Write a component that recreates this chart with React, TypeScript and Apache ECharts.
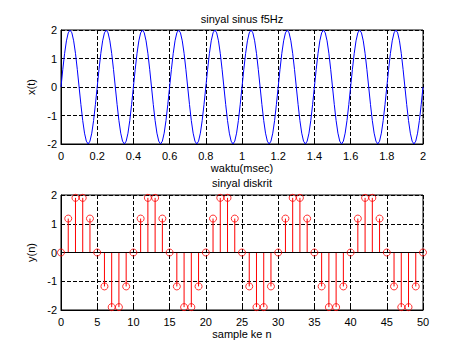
import React, { useEffect, useRef } from "react";
import * as echarts from "echarts";

// continuous signal x(t), sampled every 0.01 s over 0..2
const sineValues: number[] = [
  0, 0.62, 1.18, 1.62, 1.9, 2, 1.9, 1.62, 1.18, 0.62, 0, -0.62, -1.18, -1.62, -1.9, -2, -1.9, -1.62, -1.18, -0.62,
  0, 0.62, 1.18, 1.62, 1.9, 2, 1.9, 1.62, 1.18, 0.62, 0, -0.62, -1.18, -1.62, -1.9, -2, -1.9, -1.62, -1.18, -0.62,
  0, 0.62, 1.18, 1.62, 1.9, 2, 1.9, 1.62, 1.18, 0.62, 0, -0.62, -1.18, -1.62, -1.9, -2, -1.9, -1.62, -1.18, -0.62,
  0, 0.62, 1.18, 1.62, 1.9, 2, 1.9, 1.62, 1.18, 0.62, 0, -0.62, -1.18, -1.62, -1.9, -2, -1.9, -1.62, -1.18, -0.62,
  0, 0.62, 1.18, 1.62, 1.9, 2, 1.9, 1.62, 1.18, 0.62, 0, -0.62, -1.18, -1.62, -1.9, -2, -1.9, -1.62, -1.18, -0.62,
  0, 0.62, 1.18, 1.62, 1.9, 2, 1.9, 1.62, 1.18, 0.62, 0, -0.62, -1.18, -1.62, -1.9, -2, -1.9, -1.62, -1.18, -0.62,
  0, 0.62, 1.18, 1.62, 1.9, 2, 1.9, 1.62, 1.18, 0.62, 0, -0.62, -1.18, -1.62, -1.9, -2, -1.9, -1.62, -1.18, -0.62,
  0, 0.62, 1.18, 1.62, 1.9, 2, 1.9, 1.62, 1.18, 0.62, 0, -0.62, -1.18, -1.62, -1.9, -2, -1.9, -1.62, -1.18, -0.62,
  0, 0.62, 1.18, 1.62, 1.9, 2, 1.9, 1.62, 1.18, 0.62, 0, -0.62, -1.18, -1.62, -1.9, -2, -1.9, -1.62, -1.18, -0.62,
  0, 0.62, 1.18, 1.62, 1.9, 2, 1.9, 1.62, 1.18, 0.62, 0, -0.62, -1.18, -1.62, -1.9, -2, -1.9, -1.62, -1.18, -0.62,
  0,
];
const sineTimeStep = 0.01;

// discrete signal y(n), n = 0..50
const discreteValues: number[] = [
  0, 1.18, 1.9, 1.9, 1.18, 0, -1.18, -1.9, -1.9, -1.18,
  0, 1.18, 1.9, 1.9, 1.18, 0, -1.18, -1.9, -1.9, -1.18,
  0, 1.18, 1.9, 1.9, 1.18, 0, -1.18, -1.9, -1.9, -1.18,
  0, 1.18, 1.9, 1.9, 1.18, 0, -1.18, -1.9, -1.9, -1.18,
  0, 1.18, 1.9, 1.9, 1.18, 0, -1.18, -1.9, -1.9, -1.18,
  0,
];

const titleTop = "sinyal sinus f5Hz";
const titleBottom = "sinyal diskrit";
const xNameTop = "waktu(msec)";
const yNameTop = "x(t)";
const xNameBottom = "sample ke n";
const yNameBottom = "y(n)";

const FONT = "'Liberation Sans', Arial, Helvetica, sans-serif";

export default function App() {
  const ref = useRef<HTMLDivElement>(null);

  useEffect(() => {
    if (!ref.current) return;
    const chart = echarts.init(ref.current, undefined, { renderer: "svg" });

    const sineData = sineValues.map((v, i) => [+(i * sineTimeStep).toFixed(2), v]);
    const discreteData = discreteValues.map((v, i) => [i, v]);

    const axisCommon = {
      axisLine: { show: true, onZero: false, lineStyle: { color: "#000", width: 1 } },
      axisTick: { show: true, inside: true, length: 4, lineStyle: { color: "#000" } },
      axisLabel: { color: "#000", fontSize: 11, fontFamily: FONT },
      splitLine: { show: true, lineStyle: { color: "#000", type: [4, 2], width: 1 } },
      nameTextStyle: { color: "#000", fontSize: 11, fontFamily: FONT },
    };

    const titleStyle = { color: "#000", fontSize: 11, fontWeight: "normal", fontFamily: FONT };

    chart.setOption({
      animation: false,
      backgroundColor: "#fff",
      title: [
        { text: titleTop, left: 242, top: 13, padding: 0, textAlign: "center", textStyle: titleStyle },
        { text: titleBottom, left: 242, top: 177, padding: 0, textAlign: "center", textStyle: titleStyle },
      ],
      grid: [
        { left: 61, top: 30, width: 362, height: 114, show: true, borderColor: "#000", borderWidth: 1, backgroundColor: "transparent" },
        { left: 61, top: 195, width: 362, height: 115, show: true, borderColor: "#000", borderWidth: 1, backgroundColor: "transparent" },
      ],
      xAxis: [
        {
          ...axisCommon,
          type: "value",
          gridIndex: 0,
          min: 0,
          max: 2,
          interval: 0.2,
          name: xNameTop,
          nameLocation: "middle",
          nameGap: 18,
          axisLabel: { ...axisCommon.axisLabel, margin: 6 },
        },
        {
          ...axisCommon,
          type: "value",
          gridIndex: 1,
          min: 0,
          max: 50,
          interval: 5,
          name: xNameBottom,
          nameLocation: "middle",
          nameGap: 18,
          axisLabel: { ...axisCommon.axisLabel, margin: 6 },
        },
      ],
      yAxis: [
        {
          ...axisCommon,
          type: "value",
          gridIndex: 0,
          min: -2,
          max: 2,
          interval: 1,
          name: yNameTop,
          nameLocation: "middle",
          nameGap: 20,
          axisLabel: { ...axisCommon.axisLabel, margin: 4 },
        },
        {
          ...axisCommon,
          type: "value",
          gridIndex: 1,
          min: -2,
          max: 2,
          interval: 1,
          name: yNameBottom,
          nameLocation: "middle",
          nameGap: 20,
          axisLabel: { ...axisCommon.axisLabel, margin: 4 },
        },
      ],
      series: [
        {
          type: "line",
          xAxisIndex: 0,
          yAxisIndex: 0,
          data: sineData,
          showSymbol: false,
          symbol: "none",
          lineStyle: { color: "#0000ff", width: 1 },
          silent: true,
        },
        {
          type: "custom",
          xAxisIndex: 1,
          yAxisIndex: 1,
          data: discreteData,
          silent: true,
          renderItem: (params: any, api: any) => {
            const x = api.value(0);
            const y = api.value(1);
            const p0 = api.coord([x, 0]);
            const p1 = api.coord([x, y]);
            return {
              type: "line",
              shape: { x1: p0[0], y1: p0[1], x2: p1[0], y2: p1[1] },
              style: { stroke: "#ff0000", lineWidth: 1 },
            };
          },
          markLine: {
            silent: true,
            symbol: "none",
            label: { show: false },
            lineStyle: { color: "#000", type: "solid", width: 1 },
            data: [{ yAxis: 0 }],
          },
        },
        {
          type: "scatter",
          xAxisIndex: 1,
          yAxisIndex: 1,
          data: discreteData,
          symbol: "circle",
          symbolSize: 7,
          silent: true,
          itemStyle: { color: "transparent", borderColor: "#ff0000", borderWidth: 1 },
          z: 5,
        },
      ],
    });

    return () => {
      chart.dispose();
    };
  }, []);

  return (
    <div
      ref={ref}
      style={{ position: "absolute", left: 0, top: 0, width: 468, height: 351, background: "#fff" }}
    />
  );
}
